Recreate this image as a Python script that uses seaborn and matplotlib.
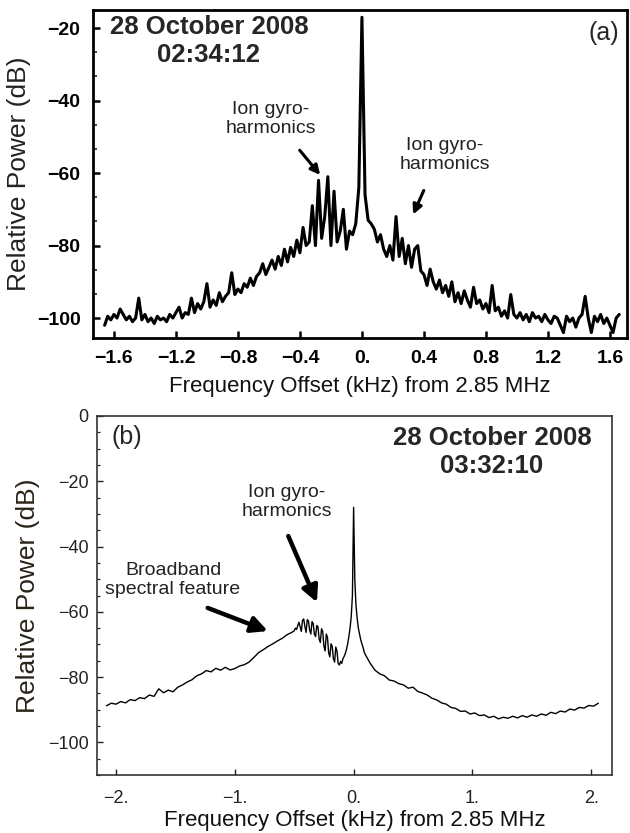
import numpy as np
import matplotlib
matplotlib.use("Agg")
import matplotlib.pyplot as plt
import seaborn as sns
from matplotlib.ticker import AutoMinorLocator

# ---- panel (a): 28 October 2008 02:34:12, sampled every 0.02 kHz ----
freq_a = np.round(np.arange(-1.66, 1.6601, 0.02), 2)
power_a = [
    # -1.66 .. -0.36
    -102, -99.5, -100.5, -99, -100, -97.5, -99, -100.5, -99.5, -101,
    -100, -94.5, -100.5, -99, -101, -100, -101.5, -99.5, -100.5, -100,
    -101, -99, -100, -98.5, -97, -100, -98.5, -99, -94.5, -98.5,
    -96, -97.5, -95.5, -90.5, -97, -95, -96.5, -93, -95.5, -94,
    -93, -87.5, -93.5, -92, -93, -90.5, -91.5, -89, -91, -88.5,
    -87.5, -85, -88, -86, -84, -86.5, -83, -85.5, -81, -84.5,
    -80.5, -83, -78.5, -82, -75, -80,
    # -0.34 .. 0.00 (ion gyro-harmonics and carrier)
    -79, -69, -80, -62, -78, -72, -61, -80, -65, -79,
    -76, -70, -81, -76, -77, -74, -64, -17,
    # 0.02 .. 1.66
    -66, -73, -74, -75.5, -79, -77, -81, -83, -80, -84,
    -72, -83, -78, -85, -80, -86, -81, -80, -87, -88,
    -91, -86.5, -90, -92, -89.5, -93, -91, -94, -90, -95.5,
    -93, -96, -92.5, -95, -97, -91.5, -96, -95, -97.5, -96,
    -98.5, -91, -98, -97, -99.5, -98, -100, -93.5, -99, -100,
    -98.5, -100.5, -99, -101, -98.5, -100, -99.5, -101, -99, -100.5,
    -101.5, -99.5, -100, -102, -104, -99.5, -101, -100, -102.5, -100,
    -99, -94, -100, -104, -99.5, -101, -99, -101.5, -100, -102,
    -104, -100, -99,
]

# ---- panel (b): 28 October 2008 03:32:10 ----
freq_b = np.round(np.concatenate([
    np.arange(-2.08, -0.51, 0.04),
    np.arange(-0.50, 0.105, 0.01),
    np.arange(0.14, 2.061, 0.04),
]), 2)
power_b = [
    # -2.08 .. -0.52 (step 0.04)
    -88.8, -88.0, -88.3, -87.5, -87.9, -86.9, -87.2, -86.3, -86.6, -85.5,
    -85.9, -83.6, -84.8, -84.0, -84.5, -83.1, -82.4, -81.5, -80.8, -79.6,
    -79.0, -78.0, -78.4, -77.3, -77.9, -77.0, -77.8, -77.4, -76.6, -76.2,
    -75.4, -74.0, -72.5, -71.6, -70.6, -69.8, -68.9, -68.1, -67.0, -66.3,
    # -0.50 .. 0.10 (step 0.01)
    -65.8, -65.0, -65.4, -64.2, -63.2, -64.6, -66.0, -62.6, -62.2, -64.5,
    -66.3, -62.4, -62.8, -65.6, -66.8, -63.0, -63.6, -66.8, -67.6, -64.2,
    -64.6, -68.4, -69.4, -65.2, -66.0, -70.6, -72.0, -66.8, -67.8, -72.6,
    -73.8, -69.8, -70.6, -74.4, -75.4, -70.8, -72.0, -75.8, -76.3, -75.2,
    -75.8, -74.4, -73.7, -72.8, -71.5, -69.8, -67.6, -65.0, -61.5, -55.0,
    -28.0, -50.0, -58.0, -62.0, -65.0, -66.8, -68.6, -69.8, -71.0, -72.4,
    -73.2,
    # 0.14 .. 2.06 (step 0.04)
    -75.8, -77.9, -79.0, -79.6, -80.9, -81.2, -82.0, -82.4, -83.4, -83.1,
    -84.4, -84.9, -85.5, -86.5, -87.0, -87.9, -88.3, -89.3, -89.6, -90.5,
    -90.4, -91.3, -91.0, -91.8, -91.6, -92.4, -92.0, -92.8, -92.3, -92.6,
    -92.0, -92.5, -91.8, -92.3, -91.6, -92.0, -91.3, -91.7, -90.8, -91.2,
    -90.4, -90.7, -89.8, -90.1, -89.3, -89.5, -88.7, -88.9, -88.0,
]

xticks_a = [-1.6, -1.2, -0.8, -0.4, 0.0, 0.4, 0.8, 1.2, 1.6]
xticklabels_a = ["\u22121.6", "\u22121.2", "\u22120.8", "\u22120.4", "0.", "0.4", "0.8", "1.2", "1.6"]
yticks_a = [-20, -40, -60, -80, -100]
xticks_b = [-2, -1, 0, 1, 2]
xticklabels_b = ["\u22122.", "\u22121.", "0.", "1.", "2."]
yticks_b = [0, -20, -40, -60, -80, -100]

sns.set_theme(style="ticks")
plt.rcParams["font.family"] = ["Liberation Sans", "DejaVu Sans"]
plt.rcParams["xtick.direction"] = "in"
plt.rcParams["ytick.direction"] = "in"

fig = plt.figure(figsize=(6.3, 8.33), dpi=100)
ax_a = fig.add_axes([93 / 630, 1 - 338 / 833, 534 / 630, 328 / 833])
ax_b = fig.add_axes([97 / 630, 1 - 775 / 833, 515 / 630, 359 / 833])

# ---- panel (a) ----
sns.lineplot(x=freq_a, y=power_a, ax=ax_a, color="black", linewidth=2.2,
             estimator=None, sort=False)
ax_a.set_xlim(-1.735, 1.71)
ax_a.set_ylim(-105.5, -15)
ax_a.set_xticks(xticks_a)
ax_a.set_xticklabels(xticklabels_a)
ax_a.set_yticks(yticks_a)
ax_a.set_yticklabels(["\u2212%d" % abs(v) for v in yticks_a])
ax_a.yaxis.set_minor_locator(AutoMinorLocator(3))
ax_a.tick_params(axis="both", which="major", length=5, width=1.8, labelsize=14, pad=9, colors="black")
ax_a.tick_params(axis="y", which="minor", length=3, width=1.2)
for lab in ax_a.get_xticklabels() + ax_a.get_yticklabels():
    lab.set_fontweight("bold")
for sp in ax_a.spines.values():
    sp.set_visible(True)
    sp.set_linewidth(2.0)
    sp.set_color("black")
ax_a.set_xlabel("Frequency Offset (kHz) from 2.85 MHz", fontsize=16, labelpad=6, color="#111111")
ax_a.set_ylabel("Relative Power (dB)", fontsize=19, labelpad=4, color="#222222")

ax_a.text(0.217, 0.985, "28 October 2008\n02:34:12", transform=ax_a.transAxes,
          ha="center", va="top", fontsize=18.5, fontweight="bold", linespacing=1.2)
ax_a.text(0.957, 0.93, "(a)", transform=ax_a.transAxes, ha="center", va="center", fontsize=18)

ax_a.text(-0.587, -45.1, "Ion gyro-\nharmonics", ha="center", va="center",
          fontsize=14, linespacing=1.15, color="#222222")
ax_a.annotate("", xy=(-0.258, -61.1), xytext=(-0.413, -53.1),
              arrowprops=dict(arrowstyle="-|>", lw=2.2, color="black", mutation_scale=14))
ax_a.text(0.535, -54.9, "Ion gyro-\nharmonics", ha="center", va="center",
          fontsize=14, linespacing=1.15, color="#222222")
ax_a.annotate("", xy=(0.323, -72.1), xytext=(0.406, -64.1),
              arrowprops=dict(arrowstyle="-|>", lw=2.2, color="black", mutation_scale=14))

# ---- panel (b) ----
sns.lineplot(x=freq_b, y=power_b, ax=ax_b, color="black", linewidth=1.0,
             estimator=None, sort=False)
ax_b.set_xlim(-2.16, 2.175)
ax_b.set_ylim(-110, 0)
ax_b.set_xticks(xticks_b)
ax_b.set_xticklabels(xticklabels_b)
ax_b.set_yticks(yticks_b)
ax_b.set_yticklabels(["0"] + ["\u2212%d" % abs(v) for v in yticks_b[1:]])
ax_b.yaxis.set_minor_locator(AutoMinorLocator(4))
ax_b.tick_params(axis="both", which="major", length=4, width=1.0, labelsize=13, colors="#222222")
ax_b.tick_params(axis="x", which="major", pad=11)
ax_b.tick_params(axis="y", which="major", pad=6)
ax_b.tick_params(axis="y", which="minor", length=2.5, width=0.9)
for sp in ax_b.spines.values():
    sp.set_visible(True)
    sp.set_linewidth(1.2)
    sp.set_color("#333333")
ax_b.set_xlabel("Frequency Offset (kHz) from 2.85 MHz", fontsize=16, labelpad=2, color="#111111")
ax_b.set_ylabel("Relative Power (dB)", fontsize=19, labelpad=6, color="#2a2418")

ax_b.text(0.058, 0.941, "(b)", transform=ax_b.transAxes, ha="center", va="center", fontsize=18)
ax_b.text(0.767, 0.972, "28 October 2008\n03:32:10", transform=ax_b.transAxes,
          ha="center", va="top", fontsize=18.5, fontweight="bold", linespacing=1.2)

ax_b.text(-0.56, -26.4, "Ion gyro-\nharmonics", ha="center", va="center",
          fontsize=14, linespacing=1.15, color="#222222")
ax_b.annotate("", xy=(-0.299, -57.9), xytext=(-0.559, -36.0),
              arrowprops=dict(arrowstyle="-|>", lw=3.2, color="black", mutation_scale=24))
ax_b.text(-1.52, -50.3, "Broadband\nspectral feature", ha="center", va="center",
          fontsize=14, linespacing=1.15, color="#222222")
ax_b.annotate("", xy=(-0.70, -66.2), xytext=(-1.25, -58.5),
              arrowprops=dict(arrowstyle="-|>", lw=3.2, color="black", mutation_scale=24))

fig.savefig("out.png", dpi=100)
